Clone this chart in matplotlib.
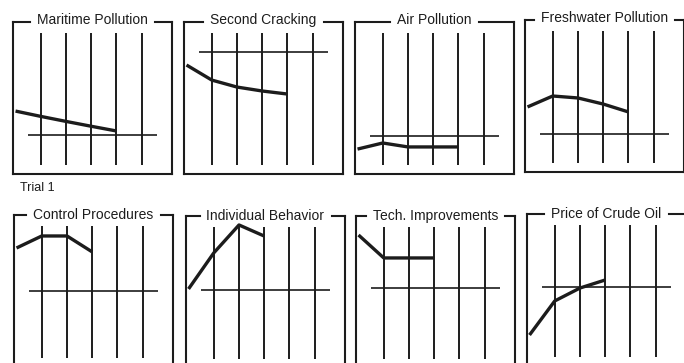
import matplotlib
matplotlib.use("Agg")
import matplotlib.pyplot as plt
from matplotlib.lines import Line2D

# panel titles (row 1 then row 2)
titles = ['Maritime Pollution', 'Second Cracking', 'Air Pollution', 'Freshwater Pollution',
          'Control Procedures', 'Individual Behavior', 'Tech. Improvements', 'Price of Crude Oil']

# plotted curves, one value per step (0 = left edge, 1..5 = the vertical lines)
maritime = [41.4, 37.9, 34.6, 31.4, 28.3]
second_cracking = [71.7, 61.8, 57.2, 54.6, 52.6]
air = [16.4, 20.4, 17.8, 17.8, 17.8]
freshwater = [42.8, 50.0, 48.7, 44.7, 39.5]
control = [78.3, 86.2, 86.2, 75.7]
individual = [52.0, 75.7, 94.1, 86.8]
tech = [87.5, 72.4, 72.4, 72.4]
crude = [20.4, 42.8, 51.3, 56.6]

# horizontal reference level in each panel
refs = [25.7, 80.3, 25.0, 25.0, 50.0, 51.3, 52.6, 52.0]

series = [maritime, second_cracking, air, freshwater, control, individual, tech, crude]

W, H = 684, 363
fig = plt.figure(figsize=(W / 100, H / 100), dpi=100)
plt.rcParams['font.family'] = ['Liberation Sans', 'DejaVu Sans']
ink = '#1c1c1c'

# panel boxes in pixels: left, top
boxes = [(13, 22), (184, 22), (355, 22), (525, 20),
         (14, 215), (186, 216), (356, 216), (527, 214)]
bw, bh = 159, 152

axes = []
for i, (left, top) in enumerate(boxes):
    ax = fig.add_axes([left / W, (H - top - bh) / H, bw / W, bh / H])
    ax.set_xlim(-0.1, 6.2)
    ax.set_ylim(0, 100)
    ax.set_xticks([])
    ax.set_yticks([])
    ax.set_facecolor('none')
    for s in ['left', 'right', 'bottom']:
        ax.spines[s].set_color(ink)
        ax.spines[s].set_linewidth(1.5)
    ax.spines['top'].set_visible(False)

    ax.vlines([1, 2, 3, 4, 5], 6, 93, color=ink, lw=1.4)
    ax.hlines(refs[i], 0.5, 5.6, color=ink, lw=1.2)
    vals = series[i]
    ax.plot(range(len(vals)), vals, color=ink, lw=2.4, solid_capstyle='butt',
            solid_joinstyle='round', clip_on=False)

    dy = 0.012 if i < 4 else 0.0
    t = ax.text(0.5, 1.0 + dy, titles[i], transform=ax.transAxes, ha='center',
                va='center', fontsize=10, color=ink)
    axes.append((ax, t))

fig.text(20 / W, 1 - 188 / H, 'Trial 1', ha='left', va='center', fontsize=9, color=ink)

# top border broken around each title
fig.canvas.draw()
r = fig.canvas.get_renderer()
for ax, t in axes:
    bb = t.get_window_extent(r)
    inv = ax.transAxes.inverted()
    x0 = inv.transform((bb.x0 - 7, 0))[0]
    x1 = inv.transform((bb.x1 + 7, 0))[0]
    for a, b in [(0, x0), (x1, 1)]:
        ax.add_line(Line2D([a, b], [1, 1], transform=ax.transAxes, color=ink,
                           lw=1.5, clip_on=False, solid_capstyle='projecting'))

fig.savefig('out.png', dpi=100)
